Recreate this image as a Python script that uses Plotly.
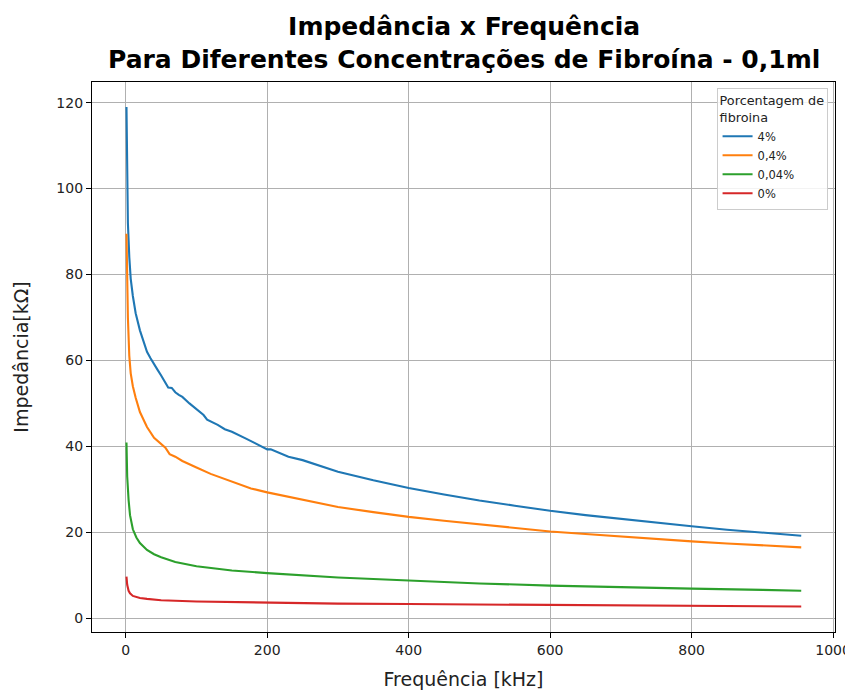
import plotly.graph_objects as go

# ---- data ----
freq_4 = [1, 2, 3, 5, 7, 10, 14, 20, 25, 30, 35, 40, 45, 50, 55, 60, 65, 70, 75, 80, 90, 100,
          110, 115, 120, 130, 140, 150, 170, 190, 200, 205, 215, 230, 250, 280, 300, 350, 400,
          450, 500, 550, 600, 650, 700, 750, 800, 850, 900, 955]
imp_4 = [119, 100, 92, 84, 79, 75, 71, 67, 64.5, 62, 60.5, 59.3, 57.8, 56.5, 55, 53.7, 53.6,
         52.6, 52, 51.5, 50, 48.6, 47.3, 46.2, 45.8, 45, 44, 43.4, 41.8, 40.2, 39.3, 39.3, 38.6,
         37.6, 36.8, 35.2, 34.1, 32.1, 30.3, 28.8, 27.4, 26.2, 25, 24, 23.1, 22.2, 21.4, 20.6,
         19.9, 19.2]

freq_04 = [1, 2, 3, 5, 7, 10, 14, 20, 26, 30, 40, 50, 56, 62, 70, 80, 90, 100, 120, 150, 177,
           200, 250, 300, 350, 400, 450, 500, 550, 600, 650, 700, 750, 800, 850, 900, 955]
imp_04 = [89.5, 78, 70, 61, 57, 54, 51.3, 48, 45.9, 44.5, 42, 40.6, 39.7, 38.2, 37.6, 36.6,
          35.8, 35.1, 33.6, 31.8, 30.2, 29.3, 27.6, 25.9, 24.7, 23.6, 22.7, 21.9, 21.0, 20.2,
          19.6, 19.0, 18.4, 17.9, 17.4, 17.0, 16.5]

freq_004 = [1, 2, 4, 6, 10, 15, 20, 30, 40, 50, 70, 100, 150, 200, 300, 400, 500, 600, 700,
            800, 900, 955]
imp_004 = [40.9, 33, 27.5, 24, 20.7, 18.8, 17.5, 15.9, 14.9, 14.2, 13.1, 12.1, 11.1, 10.5, 9.5,
           8.8, 8.1, 7.6, 7.2, 6.9, 6.6, 6.4]

freq_0 = [1, 2, 4, 6, 10, 15, 20, 30, 50, 100, 200, 300, 400, 500, 600, 700, 800, 900, 955]
imp_0 = [9.7, 7.8, 6.4, 5.8, 5.2, 4.9, 4.7, 4.5, 4.2, 3.9, 3.6, 3.4, 3.3, 3.2, 3.1, 3.0, 2.9,
         2.8, 2.75]

series_names = ["4%", "0,4%", "0,04%", "0%"]
series_colors = ["#1f77b4", "#ff7f0e", "#2ca02c", "#d62728"]
x_ticks = [0, 200, 400, 600, 800, 1000]
y_ticks = [0, 20, 40, 60, 80, 100, 120]

fig = go.Figure()
for name, xs, ys, col in zip(series_names,
                             [freq_4, freq_04, freq_004, freq_0],
                             [imp_4, imp_04, imp_004, imp_0],
                             series_colors):
    fig.add_trace(go.Scatter(x=xs, y=ys, mode="lines", name=name,
                             line=dict(color=col, width=2.1)))

FONT = "DejaVu Sans, Arial, sans-serif"
axis_common = dict(
    showgrid=True, gridcolor="#b0b0b0", gridwidth=1,
    showline=True, linecolor="black", linewidth=1.2, mirror=True,
    ticks="outside", ticklen=5, tickwidth=1.2, tickcolor="black",
    zeroline=False, automargin=False,
    tickfont=dict(family=FONT, size=14, color="#222"),
)

# the page body has an 8px default margin, so the figure is drawn 8px in from the corner
W, H = 845, 682
L, R, T, B = 84, 18, 74, 58
plot_h = H - T - B

fig.update_layout(
    width=W, height=H,
    paper_bgcolor="white", plot_bgcolor="white",
    margin=dict(l=L, r=R, t=T, b=B, autoexpand=False),
    xaxis=dict(range=[-47.75, 1002.75], tickvals=x_ticks,
               title=dict(text="Frequência [kHz]", font=dict(family=FONT, size=19, color="#222"),
                          standoff=17),
               **axis_common),
    yaxis=dict(range=[-3.2, 124.8], tickvals=y_ticks,
               title=dict(text="Impedância[kΩ]", font=dict(family=FONT, size=19, color="#222"),
                          standoff=22),
               **axis_common),
    legend=dict(
        title=dict(text="Porcentagem de<br>fibroina", font=dict(family=FONT, size=12.8, color="#222")),
        font=dict(family=FONT, size=11.5, color="#222"),
        x=0.99, xanchor="right", y=0.99, yanchor="top",
        bgcolor="rgba(255,255,255,0.85)", bordercolor="#cccccc", borderwidth=1,
        tracegroupgap=0,
    ),
    showlegend=True,
)

fig.add_annotation(
    text="<b>Impedância x Frequência<br>Para Diferentes Concentrações de Fibroína - 0,1ml</b>",
    xref="paper", yref="paper", x=0.5, xanchor="center",
    y=1 + (T - 2) / plot_h, yanchor="top",
    showarrow=False, align="center",
    font=dict(family=FONT, size=25, color="black"),
)

fig.write_html("out.html")
